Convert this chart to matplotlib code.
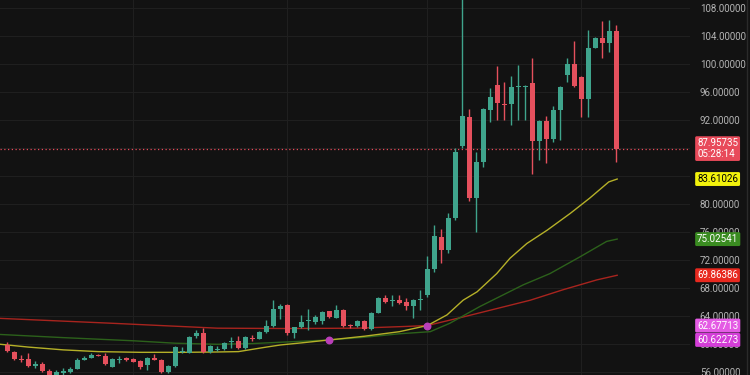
import numpy as np
import matplotlib
matplotlib.use('Agg')
import matplotlib.pyplot as plt
import matplotlib.transforms as mtransforms

# candle data (one entry per bar)
opens = [59.9, 58.9, 57.95, 57.9, 56.9, 57.2, 56.2, 55.5, 55.9, 56.1,
         56.5, 57.8, 58.1, 58.45, 58.3, 56.8, 57.7, 58.0, 57.9, 57.6,
         57.1, 58.0, 57.8, 56.1, 56.9, 58.9, 58.8, 61.2, 61.6, 58.9,
         59.25, 59.3, 60.3, 60.5, 59.4, 60.95, 60.8, 61.7, 62.6, 65.0,
         65.6, 61.6, 62.4, 63.3, 63.2, 63.3, 64.7, 63.8, 64.9, 62.65,
         62.6, 63.3, 62.2, 64.5, 66.6, 66.15, 66.3, 66.0, 65.4, 66.35,
         67.0, 70.7, 75.3, 73.5, 78.1, 88.3, 92.5, 80.9, 86.0, 93.5,
         97.0, 94.4, 94.3, 96.8, 96.8, 97.4, 89.0, 91.9, 89.3, 93.5,
         98.5, 100.0, 98.2, 95.1, 102.4, 103.8, 103.1, 104.8]
highs = [60.3, 59.1, 58.4, 58.8, 57.6, 57.4, 56.4, 56.3, 56.6, 56.8,
         58.0, 58.3, 58.7, 58.6, 58.7, 58.0, 58.3, 58.2, 58.0, 57.8,
         58.2, 58.6, 57.9, 57.1, 59.7, 59.6, 61.2, 62.1, 62.3, 59.9,
         59.7, 60.3, 61.0, 61.2, 61.2, 61.3, 61.9, 63.5, 66.3, 65.7,
         65.8, 62.5, 64.2, 65.0, 64.2, 64.7, 64.8, 65.6, 65.0, 62.9,
         63.4, 63.4, 64.6, 66.7, 67.0, 67.0, 67.0, 66.6, 66.4, 67.8,
         72.6, 77.0, 76.4, 78.7, 88.0, 112.0, 93.6, 87.5, 93.8, 96.6,
         99.7, 97.5, 98.3, 99.9, 97.1, 100.9, 92.0, 92.6, 94.0, 96.9,
         100.9, 103.3, 98.4, 104.9, 103.9, 106.2, 106.4, 105.6]
lows = [58.9, 57.8, 57.4, 56.7, 56.6, 56.0, 55.0, 55.2, 55.6, 55.9,
        56.4, 57.7, 58.0, 58.3, 57.1, 56.7, 57.3, 57.6, 57.4, 56.5,
        56.3, 57.7, 55.9, 55.9, 56.8, 58.8, 58.7, 60.9, 58.7, 58.8,
        59.0, 59.2, 59.4, 59.3, 59.3, 60.4, 60.7, 61.6, 62.5, 63.6,
        61.3, 60.9, 62.3, 62.0, 62.9, 62.9, 63.8, 63.7, 62.5, 62.3,
        62.5, 62.0, 62.0, 64.4, 65.9, 65.5, 65.7, 64.9, 63.8, 64.9,
        66.8, 70.3, 71.6, 73.0, 77.8, 88.0, 80.4, 76.1, 85.4, 91.8,
        92.0, 92.0, 91.3, 92.0, 92.0, 84.3, 86.3, 85.9, 88.9, 89.2,
        97.5, 96.8, 92.5, 92.5, 102.3, 100.9, 101.8, 86.1]
closes = [59.0, 57.9, 57.8, 56.9, 57.2, 56.2, 55.4, 56.1, 56.2, 56.5,
          57.8, 58.1, 58.4, 58.35, 57.2, 57.9, 57.85, 57.7, 57.5, 56.7,
          58.0, 57.8, 56.1, 56.9, 59.6, 59.1, 61.1, 61.6, 58.9, 59.8,
          59.35, 60.2, 60.4, 59.4, 61.1, 60.8, 61.8, 62.6, 65.0, 65.5,
          61.6, 62.4, 63.2, 63.35, 63.9, 64.6, 63.9, 64.9, 62.6, 62.55,
          63.3, 62.2, 64.5, 66.6, 66.1, 66.25, 65.9, 65.4, 66.3, 66.45,
          70.7, 75.4, 73.5, 78.1, 87.5, 92.6, 80.9, 86.0, 93.6, 95.4,
          94.5, 94.2, 96.8, 96.9, 96.95, 89.0, 91.9, 89.3, 93.5, 96.8,
          100.0, 96.9, 95.1, 102.4, 103.8, 103.1, 104.8, 87.95735]

# moving average lines (bar index, value)
yellow_idx = [-1, 3, 8, 13, 19, 25, 30, 33, 37, 39, 42, 46, 51, 56, 60,
              62.8, 65.1, 67.1, 69.9, 71.8, 74.2, 77.1, 80.4, 83.2, 85.9, 87.1]
yellow_val = [60.0, 59.6, 59.2, 58.95, 58.85, 58.85, 58.9, 58.95, 59.6, 59.9,
              60.2, 60.62, 61.15, 61.8, 62.68, 64.2, 66.3, 67.5, 70.1, 72.3,
              74.4, 76.3, 78.7, 80.9, 83.2, 83.61]
green_idx = [-1, 8, 18, 24, 30, 35, 46, 51, 56, 60.4, 63.2, 67.5, 73.7,
             77.5, 81.8, 85.6, 87.1]
green_val = [61.4, 60.95, 60.5, 60.15, 60.0, 60.1, 60.62, 61.0, 61.5, 61.8,
             63.0, 65.4, 68.5, 70.1, 72.5, 74.7, 75.03]
red_idx = [-1, 15, 30, 40, 50, 57, 60, 65.1, 69.9, 74.7, 79.4, 84.2, 87.1]
red_val = [63.7, 63.0, 62.3, 62.25, 62.3, 62.55, 62.68, 63.9, 65.1, 66.3,
           67.8, 69.2, 69.86]
cross_idx = [46, 60]
cross_val = [60.62273, 62.67713]

y_ticks = [56, 60, 64, 68, 72, 76, 80, 84, 88, 92, 96, 100, 104, 108]
hidden_ticks = [84, 88]
vgrid_idx = [18, 40, 60, 82]

last_price = 87.95735
countdown = '05:28:14'
labels = [
    (f'{last_price:.5f}\n{countdown}', last_price, '#e84a5a', 'white'),
    ('83.61026', 83.61026, '#f2f20c', 'black'),
    ('75.02541', 75.02541, '#3a8c21', 'white'),
    ('69.86386', 69.86386, '#e8291f', 'white'),
    ('62.67713', 62.67713, '#e45be4', 'white'),
    ('60.62273', 60.62273, '#d43ed8', 'white'),
]

bg = '#121212'
up_col = '#3fa48c'
down_col = '#e5505d'


def draw_candles(ax):
    o = np.array(opens)
    c = np.array(closes)
    x = np.arange(len(o))
    up = c >= o
    cols = np.where(up, up_col, down_col)
    ax.vlines(x, lows, highs, colors=cols, lw=1.0, zorder=3)
    bottom = np.minimum(o, c)
    height = np.maximum(np.abs(c - o), 0.14)
    ax.bar(x, height, bottom=bottom, width=0.72, color=cols,
           linewidth=0, zorder=4)


def main():
    plt.rcParams['font.family'] = ['Roboto', 'DejaVu Sans']
    fig = plt.figure(figsize=(7.5, 3.75), dpi=100, facecolor=bg)
    ax = fig.add_axes([0, 0, 690 / 750, 1])
    ax.set_facecolor(bg)

    for v in y_ticks:
        ax.axhline(v, color='#1f1f1f', lw=0.8, zorder=0)
    for xi in vgrid_idx:
        ax.axvline(xi, color='#1f1f1f', lw=0.8, zorder=0)

    ax.plot(red_idx, red_val, color='#a8241e', lw=1.0, zorder=2)
    ax.plot(green_idx, green_val, color='#2c611b', lw=1.0, zorder=2)
    ax.plot(yellow_idx, yellow_val, color='#b5b028', lw=1.0, zorder=2)
    ax.scatter(cross_idx, cross_val, s=22, color='#b93fb9', zorder=5)

    draw_candles(ax)
    ax.axhline(last_price, color='#e84a5a', lw=0.9, ls=(0, (1, 2)), zorder=2)

    ax.set_xlim(-1.04, 97.5)
    ax.set_ylim(55.61, 109.19)
    ax.set_xticks([])
    ax.set_yticks(y_ticks)
    ax.yaxis.tick_right()
    ax.set_yticklabels(['' if v in hidden_ticks else f'{v:.5f}'
                        for v in y_ticks])
    ax.tick_params(axis='y', length=0, pad=7, labelsize=7.0,
                   labelcolor='#b4b4b4')
    for s in ax.spines.values():
        s.set_visible(False)

    trans = mtransforms.blended_transform_factory(ax.transAxes, ax.transData)
    for text, val, fc, tc in labels:
        ax.text(1.0103, val, text, transform=trans, ha='left', va='center',
                fontsize=7.0, color=tc, clip_on=False, zorder=10,
                linespacing=1.1,
                bbox=dict(boxstyle='round,pad=0.2,rounding_size=0.15',
                          fc=fc, ec='none'))

    fig.add_artist(plt.Line2D([747 / 750, 747 / 750], [0, 1],
                              color='#2a2a2a', lw=1.0))
    fig.savefig('out.png', dpi=100, facecolor=bg)


if __name__ == '__main__':
    main()
